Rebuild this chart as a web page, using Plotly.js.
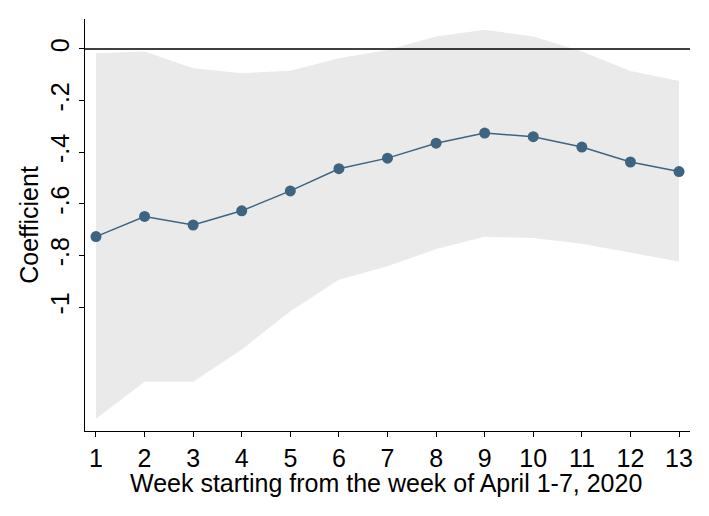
<!DOCTYPE html>
<html>
<head>
<meta charset="utf-8">
<script src="https://cdn.plot.ly/plotly-3.0.1.min.js"></script>
<style>
  html, body { margin: 0; padding: 0; background: #fff; }
  #graph { width: 709px; height: 516px; }
</style>
</head>
<body>
<div id="graph"></div>
<script>
let weeks = [1, 2, 3, 4, 5, 6, 7, 8, 9, 10, 11, 12, 13];
let coef = [-0.727, -0.649, -0.682, -0.627, -0.550, -0.464, -0.423, -0.365, -0.326, -0.340, -0.380, -0.438, -0.475];
let upper = [-0.017, -0.010, -0.075, -0.094, -0.084, -0.036, -0.004, 0.048, 0.074, 0.048, -0.010, -0.085, -0.124];
let lower = [-1.433, -1.289, -1.289, -1.164, -1.016, -0.894, -0.842, -0.775, -0.728, -0.732, -0.755, -0.790, -0.823];
let yTickVals = [0, -0.2, -0.4, -0.6, -0.8, -1];
let yTickText = ['0', '-.2', '-.4', '-.6', '-.8', '-1'];
let xTitle = 'Week starting from the week of April 1-7, 2020';

let lowerTrace = {
    x: weeks,
    y: lower,
    mode: 'lines',
    line: {width: 0, color: '#eaeaea'},
    hoverinfo: 'skip',
    showlegend: false
};

let upperTrace = {
    x: weeks,
    y: upper,
    mode: 'lines',
    fill: 'tonexty',
    fillcolor: '#eaeaea',
    line: {width: 0, color: '#eaeaea'},
    hoverinfo: 'skip',
    showlegend: false
};

let coefTrace = {
    x: weeks,
    y: coef,
    mode: 'lines+markers',
    line: {color: '#3e6482', width: 1.5},
    marker: {color: '#3e6482', size: 11},
    showlegend: false
};

let layout = {
    width: 709,
    height: 516,
    margin: {l: 85, r: 19, t: 19, b: 85},
    paper_bgcolor: '#fff',
    plot_bgcolor: '#fff',
    font: {family: 'Liberation Sans, Arial, sans-serif', size: 25, color: '#000'},
    xaxis: {
        range: [0.774, 13.226],
        tickvals: weeks,
        ticks: 'outside',
        ticklen: 5,
        tickwidth: 1,
        tickcolor: '#000',
        showline: true,
        linecolor: '#000',
        linewidth: 1,
        showgrid: false,
        zeroline: false,
        tickfont: {size: 25}
    },
    yaxis: {
        range: [-1.48, 0.116],
        tickvals: yTickVals,
        ticktext: yTickText,
        tickangle: -90,
        ticks: 'outside',
        ticklen: 5,
        tickwidth: 1,
        tickcolor: '#000',
        showline: true,
        linecolor: '#000',
        linewidth: 1,
        showgrid: false,
        zeroline: false,
        tickfont: {size: 25},
        title: {text: 'Coefficient', font: {size: 25}, standoff: 0}
    },
    annotations: [{
        text: xTitle,
        xref: 'paper', x: 0.497,
        yref: 'paper', y: -0.126,
        xanchor: 'center', yanchor: 'middle',
        showarrow: false,
        font: {size: 25}
    }],
    shapes: [{
        type: 'line',
        xref: 'paper', x0: 0, x1: 1,
        yref: 'y', y0: 0, y1: 0,
        line: {color: '#000', width: 1.5}
    }]
};

Plotly.newPlot('graph', [lowerTrace, upperTrace, coefTrace], layout, {displayModeBar: false, staticPlot: true});
</script>
</body>
</html>
